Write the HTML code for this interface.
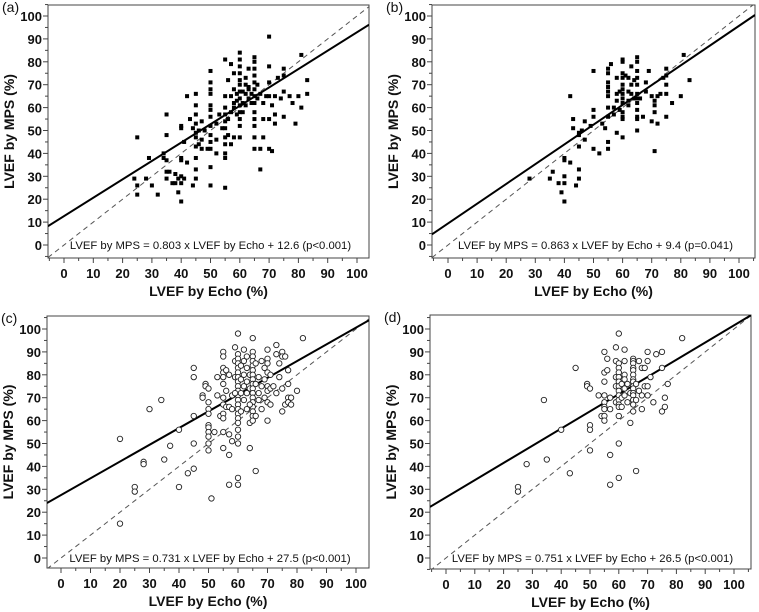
<!DOCTYPE html>
<html><head><meta charset="utf-8"><style>
html,body{margin:0;padding:0;background:#fff;}
svg{display:block;font-family:"Liberation Sans",Arial,sans-serif;}
</style></head><body>
<svg id="fig" width="759" height="612" viewBox="0 0 759 612"></svg>
<script>
const panelLabels=["(a)","(b)","(c)","(d)"];
const slopes=[0.803,0.863,0.731,0.751];
const intercepts=[12.6,9.4,27.5,26.5];
const equations=["LVEF by MPS = 0.803 x LVEF by Echo + 12.6 (p<0.001)","LVEF by MPS = 0.863 x LVEF by Echo + 9.4 (p=0.041)","LVEF by MPS = 0.731 x LVEF by Echo + 27.5 (p<0.001)","LVEF by MPS = 0.751 x LVEF by Echo + 26.5 (p<0.001)"];
const tickValues=[0,10,20,30,40,50,60,70,80,90,100];
const xTitle="LVEF by Echo (%)";
const yTitle="LVEF by MPS (%)";
const pointsA=[[25,47],[24,29],[25,26],[25,22],[28,29],[29,38],[30,26],[32,22],[34,40],[34,38],[35,57],[35,48],[35,37],[35,32],[35,29],[36,32],[37,27],[38,31],[38,27],[39,23],[39,29],[40,38],[40,37],[40,30],[40,27],[40,19],[40,51],[40,52],[41,45],[41,29],[42,36],[42,65],[43,55],[44,51],[44,26],[45,66],[45,61],[45,57],[45,53],[45,49],[45,47],[45,43],[45,38],[45,33],[45,29],[46,50],[46,44],[47,54],[47,46],[47,42],[48,50],[49,42],[50,76],[50,71],[50,68],[50,66],[50,61],[50,59],[50,56],[50,52],[50,48],[50,45],[50,42],[50,34],[50,26],[52,53],[52,46],[52,40],[53,57],[54,51],[55,81],[55,65],[55,60],[55,57],[55,54],[55,51],[55,47],[55,44],[55,40],[55,38],[55,25],[56,72],[56,55],[56,48],[57,79],[57,65],[57,58],[57,44],[58,75],[58,62],[58,47],[58,60],[59,66],[59,57],[60,84],[60,81],[60,78],[60,75],[60,72],[60,70],[60,67],[60,64],[60,61],[60,58],[60,55],[60,52],[60,47],[61,67],[61,62],[62,73],[62,66],[62,61],[63,77],[63,64],[63,69],[64,66],[64,62],[65,82],[65,80],[65,77],[65,74],[65,71],[65,68],[65,65],[65,62],[65,58],[65,55],[65,52],[65,47],[65,42],[66,70],[66,64],[67,66],[67,33],[67,42],[68,47],[68,62],[68,55],[69,65],[70,91],[70,78],[70,71],[70,65],[70,55],[70,42],[71,41],[71,61],[72,65],[72,57],[72,53],[73,73],[74,64],[75,77],[75,74],[75,67],[75,56],[77,65],[78,62],[79,53],[80,65],[81,83],[81,60],[83,72],[83,66],[62,70],[63,68],[58,68],[61,58],[59,63]];
const pointsB=[[28,29],[35,29],[36,32],[38,27],[39,23],[40,38],[40,37],[40,30],[40,27],[40,19],[42,36],[42,65],[43,55],[43,51],[44,26],[45,49],[45,48],[45,43],[45,33],[45,29],[46,50],[47,54],[47,46],[49,52],[50,76],[50,59],[50,56],[50,42],[52,40],[53,53],[54,51],[55,77],[55,75],[55,71],[55,69],[55,67],[55,65],[55,60],[55,56],[55,45],[55,42],[56,79],[57,57],[57,60],[58,73],[58,66],[58,63],[58,49],[59,59],[59,67],[60,81],[60,80],[60,75],[60,73],[60,70],[60,68],[60,66],[60,64],[60,62],[60,58],[60,56],[60,55],[60,47],[61,74],[62,73],[62,67],[62,63],[62,61],[63,78],[63,70],[63,66],[64,72],[64,64],[65,82],[65,80],[65,76],[65,73],[65,70],[65,66],[65,64],[65,62],[65,59],[65,56],[65,55],[65,50],[66,64],[67,56],[68,71],[68,67],[69,76],[70,65],[70,54],[71,63],[71,61],[71,58],[71,41],[72,53],[72,65],[73,66],[74,73],[75,77],[75,74],[75,70],[75,66],[75,56],[77,62],[80,65],[81,83],[83,72]];
const pointsC=[[20,52],[20,15],[25,31],[25,29],[28,42],[28,41],[30,65],[34,69],[35,43],[37,49],[40,56],[40,31],[43,37],[45,83],[45,79],[45,62],[45,50],[45,39],[48,71],[48,70],[49,76],[49,75],[50,74],[50,68],[50,65],[50,63],[50,58],[50,57],[50,55],[50,53],[50,50],[50,47],[51,26],[52,55],[53,71],[53,79],[54,62],[55,90],[55,88],[55,83],[55,81],[55,79],[55,76],[55,70],[55,67],[55,63],[55,61],[55,55],[55,48],[56,82],[56,73],[56,66],[57,80],[57,66],[57,54],[57,45],[57,32],[58,51],[58,71],[59,92],[59,86],[59,79],[60,98],[60,89],[60,87],[60,85],[60,83],[60,81],[60,79],[60,77],[60,75],[60,73],[60,71],[60,69],[60,67],[60,65],[60,63],[60,61],[60,59],[60,56],[60,53],[60,50],[60,35],[60,32],[61,84],[61,78],[61,72],[61,64],[62,91],[62,86],[62,80],[62,75],[62,69],[63,83],[63,77],[63,72],[63,65],[64,80],[64,74],[64,59],[64,48],[65,96],[65,90],[65,88],[65,86],[65,84],[65,82],[65,80],[65,78],[65,76],[65,74],[65,72],[65,70],[65,68],[65,66],[65,64],[65,62],[65,60],[66,85],[66,76],[66,62],[66,38],[67,79],[67,72],[67,69],[68,86],[68,75],[68,65],[69,83],[69,78],[69,70],[70,91],[70,87],[70,85],[70,81],[70,75],[70,73],[70,68],[70,60],[71,80],[71,74],[71,67],[72,75],[73,93],[73,89],[73,72],[74,85],[74,79],[75,90],[75,88],[75,74],[75,64],[76,88],[76,67],[77,82],[77,76],[77,70],[77,68],[78,70],[78,67],[80,73],[82,96],[58,65],[59,72],[63,88],[64,67]];
const pointsD=[[25,31],[25,29],[28,41],[34,69],[35,43],[40,56],[43,37],[45,83],[49,76],[49,75],[50,74],[50,58],[50,56],[50,47],[53,71],[54,62],[55,90],[55,81],[55,77],[55,71],[55,68],[55,66],[55,65],[55,62],[55,60],[56,87],[56,82],[57,70],[57,65],[57,45],[57,32],[59,92],[59,86],[59,79],[59,75],[59,68],[60,98],[60,85],[60,83],[60,81],[60,79],[60,77],[60,75],[60,73],[60,71],[60,69],[60,67],[60,66],[60,62],[60,50],[60,35],[61,76],[61,70],[61,66],[62,91],[62,86],[62,80],[62,78],[62,74],[62,71],[63,76],[63,68],[64,72],[64,59],[65,87],[65,86],[65,85],[65,83],[65,82],[65,80],[65,78],[65,77],[65,75],[65,74],[65,72],[65,71],[65,69],[65,67],[65,64],[66,76],[66,69],[66,38],[67,86],[67,73],[68,83],[68,71],[68,65],[69,83],[69,75],[70,90],[70,86],[70,75],[70,71],[71,79],[72,68],[73,89],[75,90],[75,83],[75,64],[76,70],[76,66],[77,76],[82,96]];
const allPoints=[pointsA,pointsB,pointsC,pointsD];
const hollow=[false,false,true,true];

const layouts=[
 {bx0:48,bx1:369,by0:5,by1:258,px0:64,px100:357,py0:245,py100:16},
 {bx0:432,bx1:755,by0:5,by1:258,px0:448,px100:739,py0:245,py100:16},
 {bx0:47,bx1:369,by0:316,by1:568,px0:61,px100:356,py0:558,py100:329},
 {bx0:430,bx1:751,by0:315,by1:569,px0:446,px100:734,py0:558,py100:329}
];
const NS="http://www.w3.org/2000/svg";
const svg=document.getElementById('fig');
function mk(tag,attrs,parent){const e=document.createElementNS(NS,tag);for(const k in attrs)e.setAttribute(k,attrs[k]);(parent||svg).appendChild(e);return e;}

layouts.forEach((L,i)=>{
 const sx=v=>L.px0+(L.px100-L.px0)*v/100;
 const sy=v=>L.py0+(L.py100-L.py0)*v/100;
 const inv=p=>(p-L.px0)/(L.px100-L.px0)*100;
 const g=mk('g',{});
 
 
 const cp=mk('clipPath',{id:'clip'+i},g);
 mk('rect',{x:L.bx0,y:L.by0,width:L.bx1-L.bx0,height:L.by1-L.by0},cp);
 const frame=mk('rect',{x:L.bx0,y:L.by0,width:L.bx1-L.bx0,height:L.by1-L.by0,fill:'none',stroke:'#444','stroke-width':1},g);
 
 
 const lab=mk('text',{x:L.bx0-46,y:L.by0+7,'font-size':14,fill:'#111'},g);lab.textContent=panelLabels[i];
 
 
 for(let v=-5;v<=105;v+=5){
  const X=sx(v);if(X>=L.bx0-0.5&&X<=L.bx1+0.5){mk('line',{x1:X,x2:X,y1:L.by1,y2:L.by1+(v%10===0?5:3),stroke:'#444'},g);}
  const Y=sy(v);if(Y>=L.by0-0.5&&Y<=L.by1+0.5){mk('line',{x1:L.bx0,x2:L.bx0-(v%10===0?5:3),y1:Y,y2:Y,stroke:'#444'},g);}
 }
 tickValues.forEach(v=>{
  const tx=mk('text',{x:sx(v),y:L.by1+20,'font-size':13,'font-weight':'bold','text-anchor':'middle',fill:'#111'},g);tx.textContent=v;
  
  
  const ty=mk('text',{x:L.bx0-6,y:sy(v)+5,'font-size':13,'font-weight':'bold','text-anchor':'end',fill:'#111'},g);ty.textContent=v;
  
  
 });
 const xt=mk('text',{x:(L.bx0+L.bx1)/2,y:L.by1+38,'font-size':14,'font-weight':'bold','text-anchor':'middle',fill:'#111'},g);xt.textContent=xTitle;
 
 
 const yc=(L.by0+L.by1)/2;
 const yt=mk('text',{x:L.bx0-34,y:yc,'font-size':14,'font-weight':'bold','text-anchor':'middle',fill:'#111',transform:`rotate(-90 ${L.bx0-34} ${yc})`},g);yt.textContent=yTitle;
 
 
 const cg=mk('g',{'clip-path':`url(#clip${i})`},g);
 const xa=inv(L.bx0),xb=inv(L.bx1);
 const idl=mk('line',{x1:sx(xa),y1:sy(xa),x2:sx(xb),y2:sy(xb),stroke:'#555','stroke-width':1,'stroke-dasharray':'5,4'},cg);
 
 
 const rl=mk('line',{x1:sx(xa),y1:sy(slopes[i]*xa+intercepts[i]),x2:sx(xb),y2:sy(slopes[i]*xb+intercepts[i]),stroke:'#000','stroke-width':2},cg);
 
 
 allPoints[i].forEach(p=>{
  let m;
  if(hollow[i]){m=mk('circle',{cx:sx(p[0]),cy:sy(p[1]),r:2.7,fill:'#fff',stroke:'#222','stroke-width':0.9},cg);}
  else{m=mk('rect',{x:sx(p[0])-2,y:sy(p[1])-2,width:4,height:4,fill:'#000'},cg);}
  
  
 });
 const eq=mk('text',{x:(L.bx0+L.bx1)/2+2,y:L.py0+4,'font-size':11.3,'text-anchor':'middle',fill:'#111'},g);eq.textContent=equations[i];
 
 
});
</script>
</body></html>
